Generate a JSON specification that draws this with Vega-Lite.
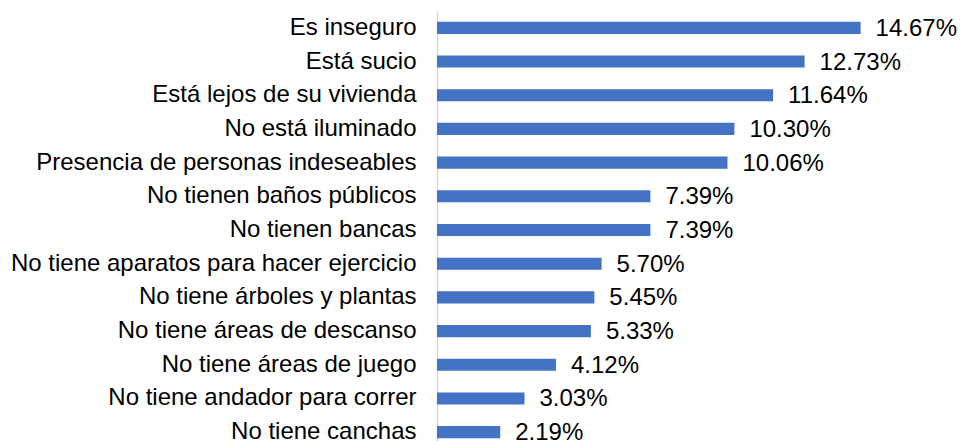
{
  "$schema": "https://vega.github.io/schema/vega-lite/v6.json",
  "width": 462,
  "height": 438,
  "autosize": {"type": "none"},
  "padding": {"left": 437, "top": 11, "right": 62, "bottom": 0},
  "background": "white",
  "config": {"view": {"stroke": null}, "font": "Liberation Sans"},
  "data": {"values": [
    {"cat": "Es inseguro", "v": 14.67, "label": "14.67%"},
    {"cat": "Está sucio", "v": 12.73, "label": "12.73%"},
    {"cat": "Está lejos de su vivienda", "v": 11.64, "label": "11.64%"},
    {"cat": "No está iluminado", "v": 10.30, "label": "10.30%"},
    {"cat": "Presencia de personas indeseables", "v": 10.06, "label": "10.06%"},
    {"cat": "No tienen baños públicos", "v": 7.39, "label": "7.39%"},
    {"cat": "No tienen bancas", "v": 7.39, "label": "7.39%"},
    {"cat": "No tiene aparatos para hacer ejercicio", "v": 5.70, "label": "5.70%"},
    {"cat": "No tiene árboles y plantas", "v": 5.45, "label": "5.45%"},
    {"cat": "No tiene áreas de descanso", "v": 5.33, "label": "5.33%"},
    {"cat": "No tiene áreas de juego", "v": 4.12, "label": "4.12%"},
    {"cat": "No tiene andador para correr", "v": 3.03, "label": "3.03%"},
    {"cat": "No tiene canchas", "v": 2.19, "label": "2.19%"}
  ]},
  "encoding": {
    "y": {"field": "cat", "type": "nominal", "sort": null,
      "scale": {"paddingInner": 0.64, "paddingOuter": 0.32},
      "axis": {"title": null, "ticks": false, "labelFontSize": 24, "labelColor": "#000000",
        "labelPadding": 21, "domainColor": "#d9d9d9", "domainWidth": 1.5, "labelLimit": 600}},
    "x": {"field": "v", "type": "quantitative", "scale": {"domain": [0, 16]}, "axis": null}
  },
  "layer": [
    {"mark": {"type": "bar", "color": "#4472C4"}},
    {"mark": {"type": "text", "align": "left", "dx": 15, "dy": 1, "fontSize": 24, "color": "#000000"},
     "encoding": {"text": {"field": "label", "type": "nominal"}}}
  ]
}
